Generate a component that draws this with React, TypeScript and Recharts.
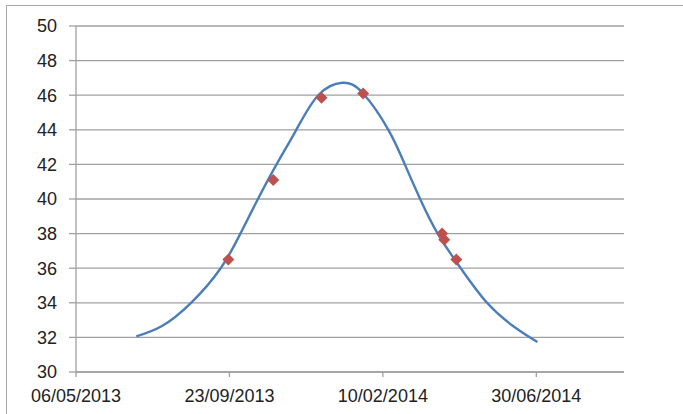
import { ComposedChart, Line, Scatter, XAxis, YAxis, CartesianGrid } from "recharts";

// smoothed curve
const curveDates = [
  "2013-06-30", "2013-07-23", "2013-08-19", "2013-09-15", "2013-10-03",
  "2013-10-19", "2013-11-05", "2013-11-23", "2013-12-13", "2014-01-04",
  "2014-01-23", "2014-02-15", "2014-03-02", "2014-03-16", "2014-04-01",
  "2014-04-22", "2014-05-16", "2014-06-10", "2014-07-01",
];
const curveValues = [
  32.06, 32.64, 34.0, 36.0, 38.0,
  40.0, 42.0, 44.0, 46.0, 46.72,
  46.1, 44.0, 42.0, 40.0, 38.0,
  36.0, 34.0, 32.6, 31.73,
];

// observed points
const pointDates = [
  "2013-09-22", "2013-11-02", "2013-12-16", "2014-01-23",
  "2014-04-05", "2014-04-07", "2014-04-18",
];
const pointValues = [36.5, 41.1, 45.85, 46.1, 38.0, 37.65, 36.5];

const xTickDates = ["2013-05-06", "2013-09-23", "2014-02-10", "2014-06-30"];
const xDomainDates = ["2013-05-06", "2014-09-18"];
const yTicks = [30, 32, 34, 36, 38, 40, 42, 44, 46, 48, 50];

const toTime = (s: string) => Date.parse(s);
const pad = (n: number) => String(n).padStart(2, "0");
const fmtDate = (t: number) => {
  const d = new Date(t);
  return `${pad(d.getUTCDate())}/${pad(d.getUTCMonth() + 1)}/${d.getUTCFullYear()}`;
};

const curveData = curveDates.map((d, i) => ({ t: toTime(d), v: curveValues[i] }));
const pointData = pointDates.map((d, i) => ({ t: toTime(d), v: pointValues[i] }));

const axisGray = "#a0a0a0";
const tickStyle = { fill: "#222", fontSize: 18, fontFamily: "Liberation Sans, Arial, sans-serif" };

function Diamond(props: any) {
  const { cx, cy } = props;
  if (cx == null || cy == null) return null;
  const r = 6;
  return (
    <polygon
      points={`${cx},${cy - r} ${cx + r},${cy} ${cx},${cy + r} ${cx - r},${cy}`}
      fill="#c0504d"
    />
  );
}

export default function App() {
  return (
    <div style={{ position: "absolute", left: 0, top: 0, width: 683, height: 414, overflow: "hidden", background: "#fff" }}>
      <div
        style={{
          position: "absolute",
          left: 6,
          top: 5,
          width: 800,
          height: 800,
          border: "1px solid #a8a8a8",
        }}
      />
      <div style={{ position: "absolute", left: 0, top: 0 }}>
        <ComposedChart width={683} height={414} margin={{ top: 26, right: 59, bottom: 0, left: 0 }}>
          <CartesianGrid vertical={false} stroke={axisGray} strokeWidth={1.3} />
          <XAxis
            type="number"
            dataKey="t"
            domain={xDomainDates.map(toTime)}
            ticks={xTickDates.map(toTime)}
            tickFormatter={fmtDate}
            allowDataOverflow
            height={42}
            tick={tickStyle}
            tickSize={5}
            tickMargin={12}
            axisLine={{ stroke: axisGray, strokeWidth: 1.3 }}
            tickLine={{ stroke: axisGray, strokeWidth: 1.3 }}
            interval={0}
          />
          <YAxis
            type="number"
            dataKey="v"
            domain={[30, 50]}
            ticks={yTicks}
            width={76}
            tick={tickStyle}
            tickSize={7}
            tickMargin={12}
            axisLine={{ stroke: axisGray, strokeWidth: 1.3 }}
            tickLine={{ stroke: axisGray, strokeWidth: 1.3 }}
            interval={0}
          />
          <Line
            data={curveData}
            dataKey="v"
            type="natural"
            stroke="#4a7ebb"
            strokeWidth={2.4}
            dot={false}
            activeDot={false}
            isAnimationActive={false}
          />
          <Scatter data={pointData} dataKey="v" shape={<Diamond />} isAnimationActive={false} />
        </ComposedChart>
      </div>
    </div>
  );
}
